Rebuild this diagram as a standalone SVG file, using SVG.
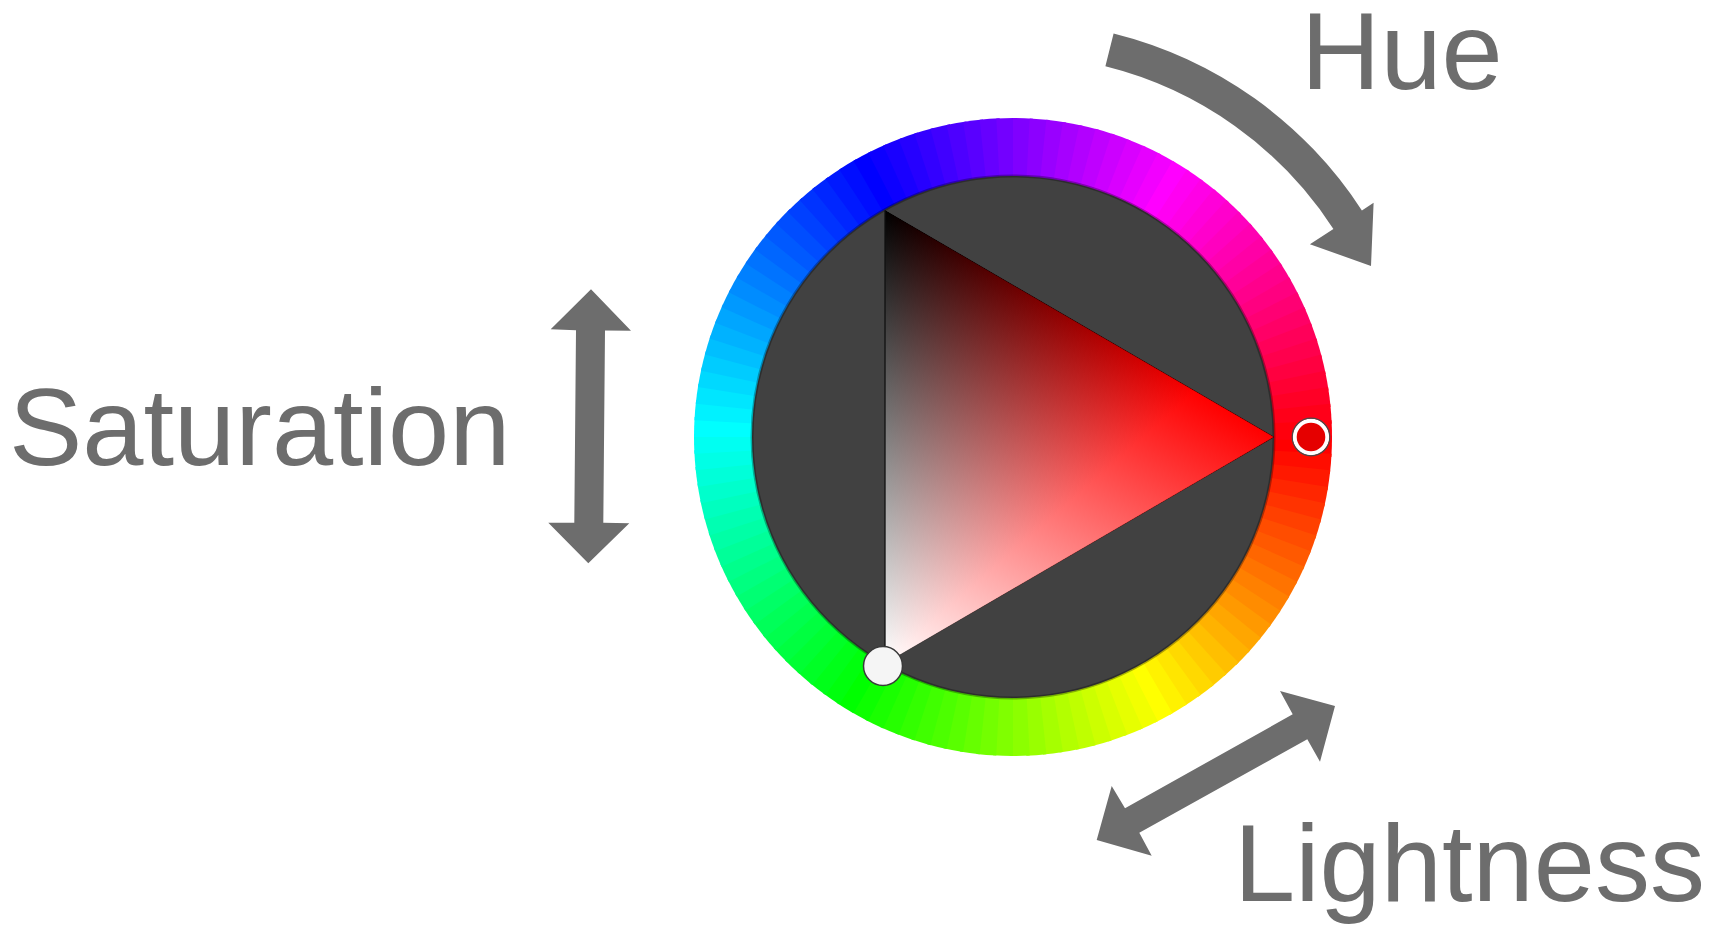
<svg xmlns="http://www.w3.org/2000/svg" xmlns:xlink="http://www.w3.org/1999/xlink" width="1727" height="926" viewBox="0 0 1727 926">
<style>
.lbl{font-family:"Liberation Sans",Arial,sans-serif;font-size:110px;fill:#6d6d6d}
.arr{fill:#6d6d6d}
.blend{mix-blend-mode:plus-lighter}
</style>
<defs>
<path id="w" d="M1013 437 L1332 437 A319 319 0 0 1 1331.37 457.03 Z"/>
<linearGradient id="gray" gradientUnits="userSpaceOnUse" x1="1082" y1="325.2" x2="885" y2="663.5">
<stop offset="0" stop-color="#000"/><stop offset="1" stop-color="#fff"/>
</linearGradient>
<linearGradient id="red" gradientUnits="userSpaceOnUse" x1="885" y1="0" x2="1274" y2="0">
<stop offset="0" stop-color="#000"/><stop offset="0.8" stop-color="#f00"/><stop offset="1" stop-color="#f00"/>
</linearGradient>
</defs>
<rect width="1727" height="926" fill="#fff"/>
<g id="wheel">
<g id="hue-ring">
<use xlink:href="#w" fill="hsl(0,100%,50%)" transform="rotate(0 1013 437)"/>
<use xlink:href="#w" fill="hsl(3,100%,50%)" transform="rotate(3 1013 437)"/>
<use xlink:href="#w" fill="hsl(6,100%,50%)" transform="rotate(6 1013 437)"/>
<use xlink:href="#w" fill="hsl(9,100%,50%)" transform="rotate(9 1013 437)"/>
<use xlink:href="#w" fill="hsl(12,100%,50%)" transform="rotate(12 1013 437)"/>
<use xlink:href="#w" fill="hsl(15,100%,50%)" transform="rotate(15 1013 437)"/>
<use xlink:href="#w" fill="hsl(18,100%,50%)" transform="rotate(18 1013 437)"/>
<use xlink:href="#w" fill="hsl(21,100%,50%)" transform="rotate(21 1013 437)"/>
<use xlink:href="#w" fill="hsl(24,100%,50%)" transform="rotate(24 1013 437)"/>
<use xlink:href="#w" fill="hsl(27,100%,50%)" transform="rotate(27 1013 437)"/>
<use xlink:href="#w" fill="hsl(30,100%,50%)" transform="rotate(30 1013 437)"/>
<use xlink:href="#w" fill="hsl(33,100%,50%)" transform="rotate(33 1013 437)"/>
<use xlink:href="#w" fill="hsl(36,100%,50%)" transform="rotate(36 1013 437)"/>
<use xlink:href="#w" fill="hsl(39,100%,50%)" transform="rotate(39 1013 437)"/>
<use xlink:href="#w" fill="hsl(42,100%,50%)" transform="rotate(42 1013 437)"/>
<use xlink:href="#w" fill="hsl(45,100%,50%)" transform="rotate(45 1013 437)"/>
<use xlink:href="#w" fill="hsl(48,100%,50%)" transform="rotate(48 1013 437)"/>
<use xlink:href="#w" fill="hsl(51,100%,50%)" transform="rotate(51 1013 437)"/>
<use xlink:href="#w" fill="hsl(54,100%,50%)" transform="rotate(54 1013 437)"/>
<use xlink:href="#w" fill="hsl(57,100%,50%)" transform="rotate(57 1013 437)"/>
<use xlink:href="#w" fill="hsl(60,100%,50%)" transform="rotate(60 1013 437)"/>
<use xlink:href="#w" fill="hsl(63,100%,50%)" transform="rotate(63 1013 437)"/>
<use xlink:href="#w" fill="hsl(66,100%,50%)" transform="rotate(66 1013 437)"/>
<use xlink:href="#w" fill="hsl(69,100%,50%)" transform="rotate(69 1013 437)"/>
<use xlink:href="#w" fill="hsl(72,100%,50%)" transform="rotate(72 1013 437)"/>
<use xlink:href="#w" fill="hsl(75,100%,50%)" transform="rotate(75 1013 437)"/>
<use xlink:href="#w" fill="hsl(78,100%,50%)" transform="rotate(78 1013 437)"/>
<use xlink:href="#w" fill="hsl(81,100%,50%)" transform="rotate(81 1013 437)"/>
<use xlink:href="#w" fill="hsl(84,100%,50%)" transform="rotate(84 1013 437)"/>
<use xlink:href="#w" fill="hsl(87,100%,50%)" transform="rotate(87 1013 437)"/>
<use xlink:href="#w" fill="hsl(90,100%,50%)" transform="rotate(90 1013 437)"/>
<use xlink:href="#w" fill="hsl(93,100%,50%)" transform="rotate(93 1013 437)"/>
<use xlink:href="#w" fill="hsl(96,100%,50%)" transform="rotate(96 1013 437)"/>
<use xlink:href="#w" fill="hsl(99,100%,50%)" transform="rotate(99 1013 437)"/>
<use xlink:href="#w" fill="hsl(102,100%,50%)" transform="rotate(102 1013 437)"/>
<use xlink:href="#w" fill="hsl(105,100%,50%)" transform="rotate(105 1013 437)"/>
<use xlink:href="#w" fill="hsl(108,100%,50%)" transform="rotate(108 1013 437)"/>
<use xlink:href="#w" fill="hsl(111,100%,50%)" transform="rotate(111 1013 437)"/>
<use xlink:href="#w" fill="hsl(114,100%,50%)" transform="rotate(114 1013 437)"/>
<use xlink:href="#w" fill="hsl(117,100%,50%)" transform="rotate(117 1013 437)"/>
<use xlink:href="#w" fill="hsl(120,100%,50%)" transform="rotate(120 1013 437)"/>
<use xlink:href="#w" fill="hsl(123,100%,50%)" transform="rotate(123 1013 437)"/>
<use xlink:href="#w" fill="hsl(126,100%,50%)" transform="rotate(126 1013 437)"/>
<use xlink:href="#w" fill="hsl(129,100%,50%)" transform="rotate(129 1013 437)"/>
<use xlink:href="#w" fill="hsl(132,100%,50%)" transform="rotate(132 1013 437)"/>
<use xlink:href="#w" fill="hsl(135,100%,50%)" transform="rotate(135 1013 437)"/>
<use xlink:href="#w" fill="hsl(138,100%,50%)" transform="rotate(138 1013 437)"/>
<use xlink:href="#w" fill="hsl(141,100%,50%)" transform="rotate(141 1013 437)"/>
<use xlink:href="#w" fill="hsl(144,100%,50%)" transform="rotate(144 1013 437)"/>
<use xlink:href="#w" fill="hsl(147,100%,50%)" transform="rotate(147 1013 437)"/>
<use xlink:href="#w" fill="hsl(150,100%,50%)" transform="rotate(150 1013 437)"/>
<use xlink:href="#w" fill="hsl(153,100%,50%)" transform="rotate(153 1013 437)"/>
<use xlink:href="#w" fill="hsl(156,100%,50%)" transform="rotate(156 1013 437)"/>
<use xlink:href="#w" fill="hsl(159,100%,50%)" transform="rotate(159 1013 437)"/>
<use xlink:href="#w" fill="hsl(162,100%,50%)" transform="rotate(162 1013 437)"/>
<use xlink:href="#w" fill="hsl(165,100%,50%)" transform="rotate(165 1013 437)"/>
<use xlink:href="#w" fill="hsl(168,100%,50%)" transform="rotate(168 1013 437)"/>
<use xlink:href="#w" fill="hsl(171,100%,50%)" transform="rotate(171 1013 437)"/>
<use xlink:href="#w" fill="hsl(174,100%,50%)" transform="rotate(174 1013 437)"/>
<use xlink:href="#w" fill="hsl(177,100%,50%)" transform="rotate(177 1013 437)"/>
<use xlink:href="#w" fill="hsl(180,100%,50%)" transform="rotate(180 1013 437)"/>
<use xlink:href="#w" fill="hsl(183,100%,50%)" transform="rotate(183 1013 437)"/>
<use xlink:href="#w" fill="hsl(186,100%,50%)" transform="rotate(186 1013 437)"/>
<use xlink:href="#w" fill="hsl(189,100%,50%)" transform="rotate(189 1013 437)"/>
<use xlink:href="#w" fill="hsl(192,100%,50%)" transform="rotate(192 1013 437)"/>
<use xlink:href="#w" fill="hsl(195,100%,50%)" transform="rotate(195 1013 437)"/>
<use xlink:href="#w" fill="hsl(198,100%,50%)" transform="rotate(198 1013 437)"/>
<use xlink:href="#w" fill="hsl(201,100%,50%)" transform="rotate(201 1013 437)"/>
<use xlink:href="#w" fill="hsl(204,100%,50%)" transform="rotate(204 1013 437)"/>
<use xlink:href="#w" fill="hsl(207,100%,50%)" transform="rotate(207 1013 437)"/>
<use xlink:href="#w" fill="hsl(210,100%,50%)" transform="rotate(210 1013 437)"/>
<use xlink:href="#w" fill="hsl(213,100%,50%)" transform="rotate(213 1013 437)"/>
<use xlink:href="#w" fill="hsl(216,100%,50%)" transform="rotate(216 1013 437)"/>
<use xlink:href="#w" fill="hsl(219,100%,50%)" transform="rotate(219 1013 437)"/>
<use xlink:href="#w" fill="hsl(222,100%,50%)" transform="rotate(222 1013 437)"/>
<use xlink:href="#w" fill="hsl(225,100%,50%)" transform="rotate(225 1013 437)"/>
<use xlink:href="#w" fill="hsl(228,100%,50%)" transform="rotate(228 1013 437)"/>
<use xlink:href="#w" fill="hsl(231,100%,50%)" transform="rotate(231 1013 437)"/>
<use xlink:href="#w" fill="hsl(234,100%,50%)" transform="rotate(234 1013 437)"/>
<use xlink:href="#w" fill="hsl(237,100%,50%)" transform="rotate(237 1013 437)"/>
<use xlink:href="#w" fill="hsl(240,100%,50%)" transform="rotate(240 1013 437)"/>
<use xlink:href="#w" fill="hsl(243,100%,50%)" transform="rotate(243 1013 437)"/>
<use xlink:href="#w" fill="hsl(246,100%,50%)" transform="rotate(246 1013 437)"/>
<use xlink:href="#w" fill="hsl(249,100%,50%)" transform="rotate(249 1013 437)"/>
<use xlink:href="#w" fill="hsl(252,100%,50%)" transform="rotate(252 1013 437)"/>
<use xlink:href="#w" fill="hsl(255,100%,50%)" transform="rotate(255 1013 437)"/>
<use xlink:href="#w" fill="hsl(258,100%,50%)" transform="rotate(258 1013 437)"/>
<use xlink:href="#w" fill="hsl(261,100%,50%)" transform="rotate(261 1013 437)"/>
<use xlink:href="#w" fill="hsl(264,100%,50%)" transform="rotate(264 1013 437)"/>
<use xlink:href="#w" fill="hsl(267,100%,50%)" transform="rotate(267 1013 437)"/>
<use xlink:href="#w" fill="hsl(270,100%,50%)" transform="rotate(270 1013 437)"/>
<use xlink:href="#w" fill="hsl(273,100%,50%)" transform="rotate(273 1013 437)"/>
<use xlink:href="#w" fill="hsl(276,100%,50%)" transform="rotate(276 1013 437)"/>
<use xlink:href="#w" fill="hsl(279,100%,50%)" transform="rotate(279 1013 437)"/>
<use xlink:href="#w" fill="hsl(282,100%,50%)" transform="rotate(282 1013 437)"/>
<use xlink:href="#w" fill="hsl(285,100%,50%)" transform="rotate(285 1013 437)"/>
<use xlink:href="#w" fill="hsl(288,100%,50%)" transform="rotate(288 1013 437)"/>
<use xlink:href="#w" fill="hsl(291,100%,50%)" transform="rotate(291 1013 437)"/>
<use xlink:href="#w" fill="hsl(294,100%,50%)" transform="rotate(294 1013 437)"/>
<use xlink:href="#w" fill="hsl(297,100%,50%)" transform="rotate(297 1013 437)"/>
<use xlink:href="#w" fill="hsl(300,100%,50%)" transform="rotate(300 1013 437)"/>
<use xlink:href="#w" fill="hsl(303,100%,50%)" transform="rotate(303 1013 437)"/>
<use xlink:href="#w" fill="hsl(306,100%,50%)" transform="rotate(306 1013 437)"/>
<use xlink:href="#w" fill="hsl(309,100%,50%)" transform="rotate(309 1013 437)"/>
<use xlink:href="#w" fill="hsl(312,100%,50%)" transform="rotate(312 1013 437)"/>
<use xlink:href="#w" fill="hsl(315,100%,50%)" transform="rotate(315 1013 437)"/>
<use xlink:href="#w" fill="hsl(318,100%,50%)" transform="rotate(318 1013 437)"/>
<use xlink:href="#w" fill="hsl(321,100%,50%)" transform="rotate(321 1013 437)"/>
<use xlink:href="#w" fill="hsl(324,100%,50%)" transform="rotate(324 1013 437)"/>
<use xlink:href="#w" fill="hsl(327,100%,50%)" transform="rotate(327 1013 437)"/>
<use xlink:href="#w" fill="hsl(330,100%,50%)" transform="rotate(330 1013 437)"/>
<use xlink:href="#w" fill="hsl(333,100%,50%)" transform="rotate(333 1013 437)"/>
<use xlink:href="#w" fill="hsl(336,100%,50%)" transform="rotate(336 1013 437)"/>
<use xlink:href="#w" fill="hsl(339,100%,50%)" transform="rotate(339 1013 437)"/>
<use xlink:href="#w" fill="hsl(342,100%,50%)" transform="rotate(342 1013 437)"/>
<use xlink:href="#w" fill="hsl(345,100%,50%)" transform="rotate(345 1013 437)"/>
<use xlink:href="#w" fill="hsl(348,100%,50%)" transform="rotate(348 1013 437)"/>
<use xlink:href="#w" fill="hsl(351,100%,50%)" transform="rotate(351 1013 437)"/>
<use xlink:href="#w" fill="hsl(354,100%,50%)" transform="rotate(354 1013 437)"/>
<use xlink:href="#w" fill="hsl(357,100%,50%)" transform="rotate(357 1013 437)"/>
</g>
<circle cx="1013" cy="437" r="261" fill="#414141" stroke="#000" stroke-opacity="0.3" stroke-width="3"/>
</g>
<g id="triangle" style="isolation:isolate">
<polygon points="885,210.5 1274,437 885,663.5" fill="url(#gray)"/>
<polygon class="blend" points="885,210.5 1274,437 885,663.5" fill="url(#red)"/>
<polygon points="885,210.5 1274,437 885,663.5" fill="none" stroke="#000" stroke-opacity="0.25" stroke-width="1"/>
<line x1="885" y1="210.5" x2="885" y2="663.5" stroke="#111" stroke-opacity="0.6" stroke-width="2"/>
</g>
<g id="marker-lightness">
<circle cx="883" cy="666" r="19.5" fill="#f5f5f5" stroke="#3a3a3a" stroke-width="1.5"/>
</g>
<g id="marker-hue">
<circle cx="1311" cy="437" r="16.3" fill="#e50000" stroke="#fff" stroke-width="4"/>
<circle cx="1311" cy="437" r="18.8" fill="none" stroke="#4a4a4a" stroke-width="1.2"/>
</g>
<g id="connectors">
<path id="hue-arrow" class="arr" d="M1113.6 33.4 A416 416 0 0 1 1361.9 210.4 L1373.6 202.8 L1371 266 L1309.9 244.2 L1333.4 228.95 A382 382 0 0 0 1105.4 66.35 Z"/>
<polygon id="saturation-arrow" class="arr" points="591,289.3 631,330.7 605,330.5 603.3,522.8 629.3,523.3 588.3,563.3 548.3,522.7 574.3,522.7 576,330.3 550.7,329.3"/>
<polygon id="lightness-arrow" class="arr" points="1335,706 1320,761.7 1307.3,739.3 1139.3,832.7 1151.7,855.7 1096.7,840 1111.7,786 1125,808.3 1292.7,714.3 1280,691"/>
</g>
<g id="labels">
<text id="label-hue" class="lbl" x="1301" y="89">Hue</text>
<text id="label-saturation" class="lbl" x="9" y="465">Saturation</text>
<text id="label-lightness" class="lbl" x="1234" y="901">Lightness</text>
</g>
</svg>
